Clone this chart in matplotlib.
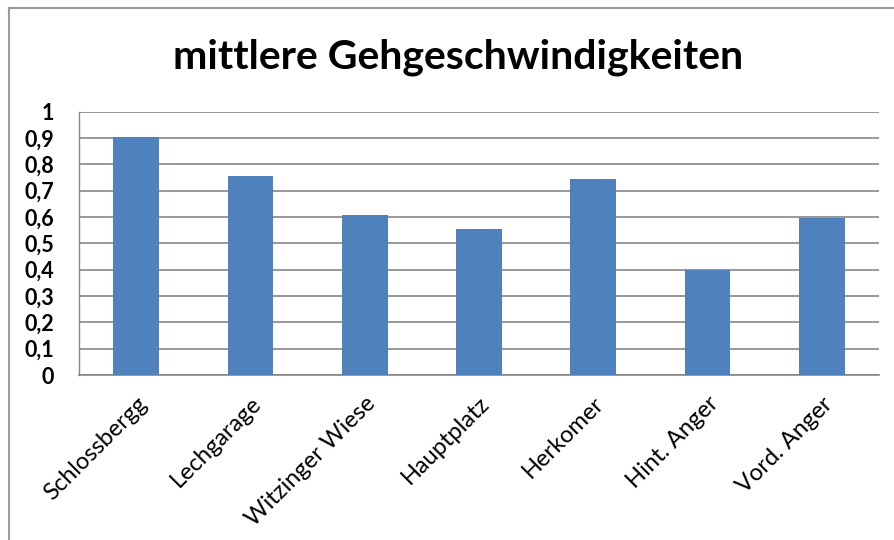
import matplotlib
matplotlib.use("Agg")
import matplotlib.pyplot as plt
from matplotlib.lines import Line2D
import numpy as np

categories = ["Schlossbergg", "Lechgarage", "Witzinger Wiese", "Hauptplatz",
              "Herkomer", "Hint. Anger", "Vord. Anger"]
values = [0.905, 0.757, 0.609, 0.553, 0.746, 0.398, 0.597]
yticks = [0, 0.1, 0.2, 0.3, 0.4, 0.5, 0.6, 0.7, 0.8, 0.9, 1.0]
ytick_labels = ["0", "0,1", "0,2", "0,3", "0,4", "0,5", "0,6", "0,7", "0,8", "0,9", "1"]
title = "mittlere Gehgeschwindigkeiten"

plt.rcParams['font.family'] = ['Lato', 'DejaVu Sans']

fig = plt.figure(figsize=(8.95, 5.4), dpi=100)
ax = fig.add_axes([79/895, 1-375/540, (879-79)/895, (375-111.7)/540])

x = np.arange(len(categories))
ax.bar(x, values, width=0.4, color="#4F81BD", zorder=3)
ax.set_xlim(-0.5, len(categories)-0.5)
ax.set_ylim(0, 1)
ax.set_yticks(yticks)
ax.set_yticklabels(ytick_labels, fontsize=15.5, fontweight='bold')
ax.set_xticks(x)
ax.set_xticklabels(categories, rotation=45, ha='right', rotation_mode='anchor',
                   fontsize=17)
ax.tick_params(axis='y', length=0, pad=18)
ax.tick_params(axis='x', length=0, pad=13)
ax.grid(axis='y', color="#868686", linewidth=1.2, zorder=0)
for s in ['top', 'right']:
    ax.spines[s].set_visible(False)
ax.spines['left'].set_color("#868686")
ax.spines['bottom'].set_color("#868686")
ax.spines['left'].set_linewidth(1.0)
ax.spines['bottom'].set_linewidth(1.2)

fig.text(458/895, 1-57/540, title, ha='center', va='center', fontsize=29.5,
         fontweight='bold')

# outer chart frame (extends past the image edges)
fig.add_artist(Line2D([9/895, 1], [1-8/540, 1-8/540], color="#9a9a9a", lw=1.5,
                      transform=fig.transFigure))
fig.add_artist(Line2D([9/895, 9/895], [0, 1-8/540], color="#9a9a9a", lw=1.5,
                      transform=fig.transFigure))

fig.savefig("out.png", dpi=100)
